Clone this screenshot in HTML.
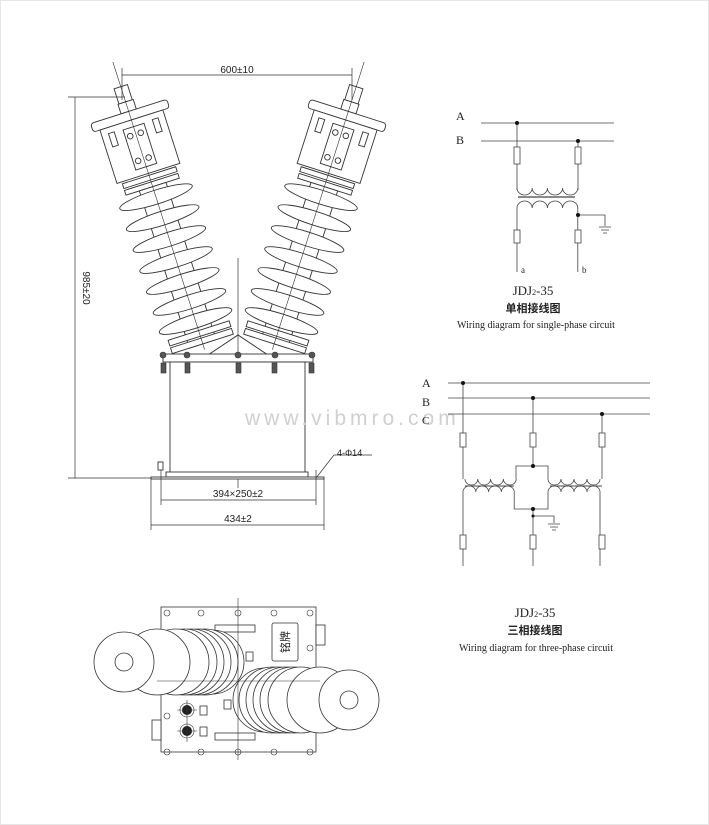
<!DOCTYPE html>
<html><head><meta charset="utf-8"><style>
html,body{margin:0;padding:0;background:#fff}
svg{display:block}
text{font-family:"Liberation Serif","Noto Serif CJK SC",serif;fill:#222}
.s{font-family:"Liberation Sans",sans-serif}
.c{font-family:"Noto Sans CJK SC",sans-serif}
</style></head><body>
<svg width="709" height="825" viewBox="0 0 709 825" xmlns="http://www.w3.org/2000/svg">
<rect x="0.5" y="0.5" width="708" height="824" fill="#fff" stroke="#e6e6e6"/>
<defs>
<g id="ins" fill="#fff" stroke="#333" stroke-width="0.9">
  <rect x="-7" y="-14" width="14" height="16"/>
  <rect x="-8" y="2" width="16" height="10"/>
  <rect x="-40" y="12" width="80" height="9" rx="3"/>
  <rect x="-33" y="21" width="66" height="56"/>
  <rect x="-11" y="28" width="22" height="42"/>
  <circle cx="-6" cy="36" r="2.8"/><circle cx="5" cy="36" r="2.8"/>
  <circle cx="-6" cy="62" r="2.8"/><circle cx="5" cy="62" r="2.8"/>
  <rect x="-26" y="27" width="6" height="14"/><rect x="20" y="27" width="6" height="14"/>
  <rect x="-28" y="79" width="56" height="5"/>
  <rect x="-28" y="86" width="56" height="5"/>
  <rect x="-14" y="91" width="28" height="165"/>
  <ellipse cx="0" cy="102" rx="38" ry="7"/>
  <ellipse cx="0" cy="124" rx="38" ry="7"/>
  <ellipse cx="0" cy="146" rx="38" ry="7"/>
  <ellipse cx="0" cy="168" rx="38" ry="7"/>
  <ellipse cx="0" cy="190" rx="38" ry="7"/>
  <ellipse cx="0" cy="212" rx="38" ry="7"/>
  <ellipse cx="0" cy="232" rx="38" ry="7"/>
  <rect x="-32" y="242" width="64" height="6"/>
  <rect x="-32" y="250" width="64" height="6"/>
  <line x1="0" y1="-40" x2="0" y2="262" stroke-width="0.6"/>
</g>
</defs>
<use href="#ins" transform="translate(125,100) rotate(-17.7)"/>
<use href="#ins" transform="translate(352,100) rotate(17.7)"/>
<path d="M208,355 L238,335 L268,355" fill="none" stroke="#333"/>
<line x1="238" y1="258" x2="238" y2="488" stroke="#333" stroke-width="0.7"/>
<g stroke="#333" fill="#fff" stroke-width="0.9">
<rect x="163" y="354" width="150" height="8"/>
<rect x="170" y="362" width="135" height="111"/>
<rect x="166" y="472" width="142" height="5"/>
<rect x="151" y="477" width="173" height="2"/>
<rect x="158" y="462" width="5" height="8"/>
</g>
<g fill="#555" stroke="#333" stroke-width="0.6">
<rect x="161" y="363" width="5" height="10"/><rect x="185" y="363" width="5" height="10"/><rect x="236" y="363" width="5" height="10"/><rect x="272" y="363" width="5" height="10"/><rect x="309" y="363" width="5" height="10"/>
<circle cx="163" cy="355" r="3"/><circle cx="187" cy="355" r="3"/><circle cx="238" cy="355" r="3"/><circle cx="275" cy="355" r="3"/><circle cx="312" cy="355" r="3"/>
</g>
<g stroke="#333" stroke-width="0.7" fill="none">
<line x1="122" y1="75" x2="352" y2="75"/>
<line x1="122" y1="68" x2="122" y2="100"/><line x1="352" y1="68" x2="352" y2="100"/>
<line x1="75" y1="97" x2="75" y2="478"/>
<line x1="68" y1="97" x2="125" y2="97"/><line x1="68" y1="478" x2="151" y2="478"/>
<line x1="161" y1="500" x2="316" y2="500"/>
<line x1="161" y1="470" x2="161" y2="505"/><line x1="316" y1="470" x2="316" y2="505"/>
<line x1="151" y1="525" x2="324" y2="525"/>
<line x1="151" y1="478" x2="151" y2="530"/><line x1="324" y1="478" x2="324" y2="530"/>
<line x1="316" y1="478" x2="334" y2="455"/><line x1="334" y1="455" x2="372" y2="455"/>
</g>
<text x="237" y="73" font-size="10" text-anchor="middle" class="s">600±10</text>
<text transform="translate(83,288) rotate(90)" font-size="10" text-anchor="middle" class="s">985±20</text>
<text x="238" y="497" font-size="10" text-anchor="middle" class="s">394×250±2</text>
<text x="238" y="522" font-size="10" text-anchor="middle" class="s">434±2</text>
<text x="337" y="456" font-size="9" class="s">4-Φ14</text>
<text x="245" y="425" font-size="21" class="s" style="fill:#d0d0d0;letter-spacing:4px">www.vibmro.com</text>
<!-- plan view -->
<g stroke="#333" stroke-width="0.8" fill="#fff">
<rect x="161" y="607" width="155" height="145"/>
<rect x="316" y="625" width="9" height="20"/><rect x="152" y="720" width="9" height="20"/>
<rect x="272" y="623" width="26" height="38" rx="2"/>
<rect x="215" y="625" width="40" height="7"/><rect x="215" y="733" width="40" height="7"/>
<rect x="246" y="652" width="7" height="9"/><rect x="224" y="700" width="7" height="9"/>
<rect x="200" y="706" width="7" height="9"/><rect x="200" y="727" width="7" height="9"/>
<!-- left shed stack -->
<circle cx="212" cy="662" r="32"/>
<circle cx="205" cy="662" r="33"/>
<circle cx="198" cy="662" r="33"/>
<circle cx="191" cy="662" r="33"/>
<circle cx="184" cy="662" r="33"/>
<circle cx="176" cy="662" r="33"/>
<circle cx="157" cy="662" r="33"/>
<circle cx="124" cy="662" r="30"/><circle cx="124" cy="662" r="9"/>
<!-- right shed stack -->
<circle cx="265" cy="700" r="32"/>
<circle cx="272" cy="700" r="33"/>
<circle cx="279" cy="700" r="33"/>
<circle cx="286" cy="700" r="33"/>
<circle cx="293" cy="700" r="33"/>
<circle cx="301" cy="700" r="33"/>
<circle cx="320" cy="700" r="33"/>
<circle cx="349" cy="700" r="30"/><circle cx="349" cy="700" r="9"/>
</g>
<circle cx="187" cy="710" r="5" fill="#222"/><circle cx="187" cy="731" r="5" fill="#222"/>
<g stroke="#333" stroke-width="0.6" fill="none">
<circle cx="187" cy="710" r="7"/><circle cx="187" cy="731" r="7"/>
<line x1="177" y1="710" x2="197" y2="710"/><line x1="177" y1="731" x2="197" y2="731"/>
<line x1="187" y1="700" x2="187" y2="742"/>
<line x1="157" y1="681" x2="320" y2="681"/>
<line x1="238" y1="598" x2="238" y2="760"/>
<circle cx="167" cy="613" r="3"/><circle cx="201" cy="613" r="3"/><circle cx="238" cy="613" r="3"/><circle cx="274" cy="613" r="3"/><circle cx="310" cy="613" r="3"/>
<circle cx="167" cy="752" r="3"/><circle cx="201" cy="752" r="3"/><circle cx="238" cy="752" r="3"/><circle cx="274" cy="752" r="3"/><circle cx="310" cy="752" r="3"/>
<circle cx="310" cy="648" r="3"/><circle cx="167" cy="716" r="3"/>
</g>
<text x="285" y="646" font-size="11" text-anchor="middle" class="c" transform="rotate(-90 285 642)">铭牌</text>
<!-- single phase -->
<g stroke="#444" stroke-width="0.8" fill="none">
<line x1="481" y1="123" x2="614" y2="123"/><line x1="481" y1="141" x2="614" y2="141"/>
<path d="M517,123 V190 M578,141 V190"/>
<rect x="514" y="147" width="6" height="17" fill="#fff"/><rect x="575" y="147" width="6" height="17" fill="#fff"/>
<path d="M517,188 a7.6,7 0 0 0 15.2,0 a7.6,7 0 0 0 15.2,0 a7.6,7 0 0 0 15.2,0 a7.6,7 0 0 0 15.2,0"/>
<line x1="518" y1="197" x2="575" y2="197" stroke-width="1.2"/>
<path d="M517,272 V208 a7.6,7 0 0 1 15.2,0 a7.6,7 0 0 1 15.2,0 a7.6,7 0 0 1 15.2,0 a7.6,7 0 0 1 15.2,0 V272"/>
<rect x="514" y="230" width="6" height="13" fill="#fff"/><rect x="575" y="230" width="6" height="13" fill="#fff"/>
<path d="M578,215 H605 V226 M599,227 H611 M601,230 H609 M603,233 H607"/>
</g>
<g fill="#111"><circle cx="517" cy="123" r="2"/><circle cx="578" cy="141" r="2"/><circle cx="578" cy="215" r="2"/></g>
<text x="456" y="120" font-size="12">A</text><text x="456" y="144" font-size="12">B</text>
<text x="521" y="273" font-size="9">a</text><text x="582" y="273" font-size="9">b</text>
<text x="533" y="295" font-size="13" text-anchor="middle">JDJ<tspan font-size="8">2</tspan>-35</text>
<text x="533" y="312" font-size="11" text-anchor="middle" font-weight="bold" class="c">单相接线图</text>
<text x="536" y="328" font-size="10" text-anchor="middle">Wiring diagram for single-phase circuit</text>
<!-- three phase -->
<g stroke="#444" stroke-width="0.8" fill="none">
<line x1="448" y1="383" x2="650" y2="383"/><line x1="448" y1="398" x2="650" y2="398"/><line x1="448" y1="414" x2="650" y2="414"/>
<path d="M463,383 V479 M533,398 V466 M602,414 V479"/>
<rect x="460" y="433" width="6" height="14" fill="#fff"/><rect x="530" y="433" width="6" height="14" fill="#fff"/><rect x="599" y="433" width="6" height="14" fill="#fff"/>
<path d="M516,479 V466 H548 V479"/>
<path d="M465,479 a6.4,6 0 0 0 12.8,0 a6.4,6 0 0 0 12.8,0 a6.4,6 0 0 0 12.8,0 a6.4,6 0 0 0 12.8,0"/>
<path d="M548,479 a6.5,6 0 0 0 13,0 a6.5,6 0 0 0 13,0 a6.5,6 0 0 0 13,0 a6.5,6 0 0 0 13,0"/>
<line x1="465" y1="486" x2="514" y2="486" stroke-width="1.1"/><line x1="550" y1="486" x2="602" y2="486" stroke-width="1.1"/>
<path d="M463,566 V492 a6.4,6 0 0 1 12.8,0 a6.4,6 0 0 1 12.8,0 a6.4,6 0 0 1 12.8,0 a6.4,6 0 0 1 12.8,0 V509 H548 V492 a6.5,6 0 0 1 13,0 a6.5,6 0 0 1 13,0 a6.5,6 0 0 1 13,0 a6.5,6 0 0 1 13,0 V566"/>
<path d="M533,509 V566 M533,516 H554 V523 M548,524 H560 M550,527 H558 M552,530 H556"/>
<rect x="460" y="535" width="6" height="14" fill="#fff"/><rect x="530" y="535" width="6" height="14" fill="#fff"/><rect x="599" y="535" width="6" height="14" fill="#fff"/>
</g>
<g fill="#111"><circle cx="463" cy="383" r="2"/><circle cx="533" cy="398" r="2"/><circle cx="602" cy="414" r="2"/><circle cx="533" cy="466" r="2"/><circle cx="533" cy="509" r="2"/><circle cx="533" cy="516" r="1.5"/></g>
<text x="422" y="387" font-size="12">A</text><text x="422" y="406" font-size="12">B</text><text x="422" y="424" font-size="11">C</text>
<text x="535" y="617" font-size="13" text-anchor="middle">JDJ<tspan font-size="8">2</tspan>-35</text>
<text x="535" y="634" font-size="11" text-anchor="middle" font-weight="bold" class="c">三相接线图</text>
<text x="536" y="651" font-size="10" text-anchor="middle">Wiring diagram for three-phase circuit</text>
</svg>
</body></html>
